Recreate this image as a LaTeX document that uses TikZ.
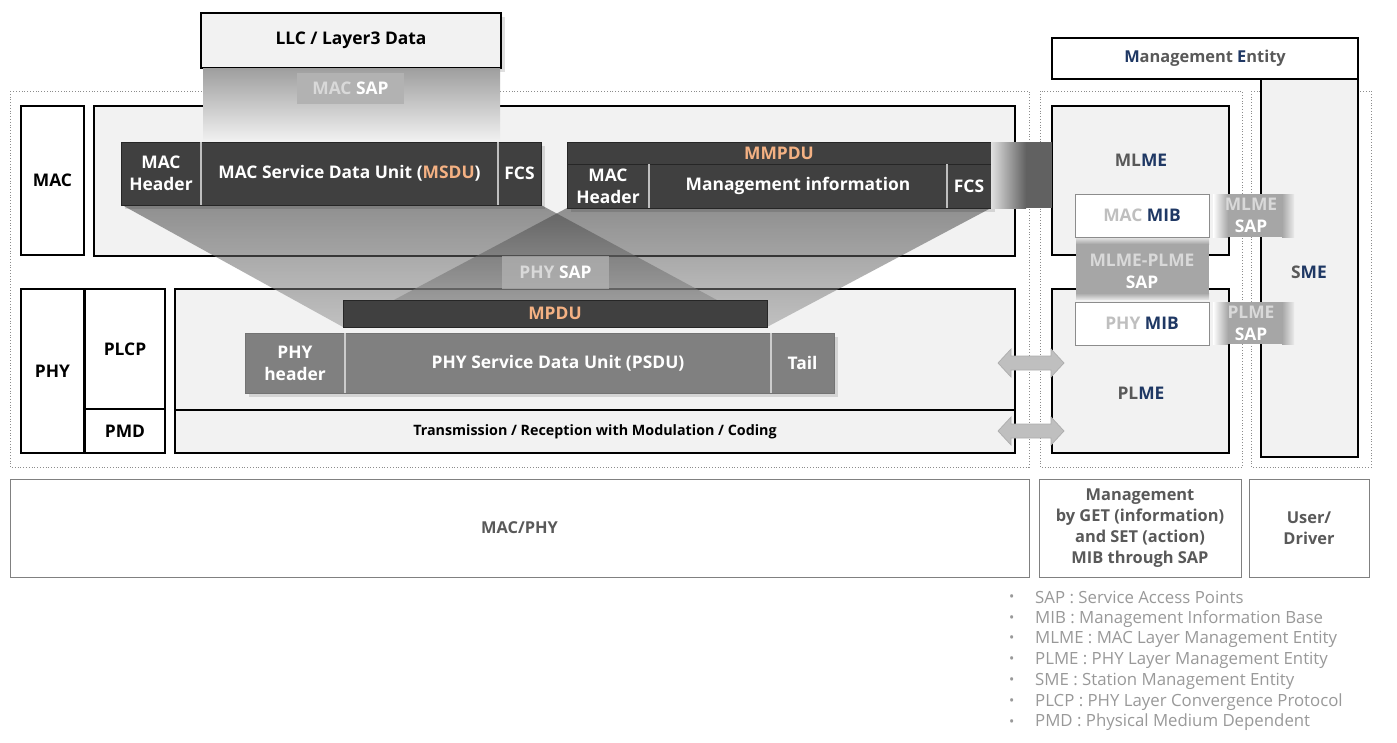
\documentclass[tikz,border=0pt]{standalone}
\usepackage{fontspec}
\setmainfont{Open Sans}
\usetikzlibrary{shadows}
\definecolor{lf}{HTML}{F2F2F2}
\definecolor{dk}{HTML}{404040}
\definecolor{pg}{HTML}{808080}
\definecolor{org}{HTML}{F4B183}
\definecolor{navy}{HTML}{1F3864}
\definecolor{tg}{HTML}{595959}
\definecolor{sapc}{HTML}{A6A6A6}
\definecolor{ltx}{HTML}{D9D9D9}
\definecolor{leg}{HTML}{999999}
\newcommand\fbig{\bfseries\fontsize{17.4}{22}\selectfont}
\newcommand\fmed{\bfseries\fontsize{16.4}{21}\selectfont}
\newcommand\fsm{\bfseries\fontsize{14.3}{16}\selectfont}
\newcommand\fleg{\fontsize{16.8}{20}\selectfont}
\begin{document}
\begin{tikzpicture}[x=1pt,y=-1pt,
 base/.style={anchor=north west, inner sep=0pt, outer sep=0pt, align=center},
 lay/.style={base, draw=black, line width=1.6pt, fill=lf},
 lbl/.style={base, draw=black, line width=1.6pt, fill=white, font=\fbig},
 seg/.style={base, fill=dk, draw=black!85, line width=0.8pt, text=white, font=\fbig},
 pseg/.style={base, fill=pg, draw=black!55, line width=0.8pt, text=white, font=\fbig},
 sepl/.style={draw=black!25, line width=1.2pt},
 mib/.style={base, draw=black!45, line width=1pt, fill=white, font=\fbig},
 sap/.style={base, fill=black!30, font=\fbig, text=white},
 saptxt/.style={inner sep=0pt, font=\fbig, text=white, align=center},
 txt/.style={inner sep=0pt, font=\fbig},
 botbox/.style={base, draw=black!50, line width=1pt, fill=white, text=tg, font=\fmed},
 dotbox/.style={draw=black!45, dotted, line width=0.8pt},
 funnel/.style={top color=black!75, bottom color=black!40, fill opacity=0.55},
 fshadow/.style={fill=black, fill opacity=0.12},
 dblarrow/.style={fill=black!25, draw=black!32, line width=0.7pt},
 legt/.style={anchor=west, inner sep=0pt, text=leg, font=\fleg}
]
\path[fill=white] (0,0) rectangle (1397,742);
\useasboundingbox (0,0) rectangle (1397,742);

% dotted groups
\draw[dotbox] (10,91) rectangle (1029,467);
\draw[dotbox] (1040,91) rectangle (1242,467);
\draw[dotbox] (1251,91) rectangle (1371,467);

% MAC / PHY layers
\node[lbl, minimum width=63, minimum height=149] (mac) at (21,106) {MAC};
\node[lay, minimum width=921, minimum height=150] (maclayer) at (94,106) {};
\node[lbl, minimum width=63, minimum height=164] (phy) at (21,289) {PHY};
\node[lbl, minimum width=80, minimum height=120] (plcp) at (85,289) {PLCP};
\node[lbl, minimum width=80, minimum height=44] (pmd) at (85,409) {PMD};
\node[lay, minimum width=840, minimum height=121] (phylayer) at (175,289) {};
\node[lay, minimum width=840, minimum height=43, font=\fsm] (pmdlayer) at (175,410) {Transmission / Reception with Modulation / Coding};

% management entities
\node[lay, minimum width=177, minimum height=149] (mlme) at (1052,106) {};
\node[lay, minimum width=177, minimum height=164] (plme) at (1052,289) {};
\node[lay, minimum width=97, minimum height=379] (sme) at (1261,78) {};
\node[lbl, minimum width=306, minimum height=41, font=\fmed] (me) at (1052,38) {\textcolor{navy}{M}\textcolor{tg}{anagement} \textcolor{navy}{E}\textcolor{tg}{ntity}};
\node[txt] (mlmet) at (1141,160) {\textcolor{tg}{ML}\textcolor{navy}{ME}};
\node[txt] (plmet) at (1141,393) {\textcolor{tg}{PL}\textcolor{navy}{ME}};
\node[txt] (smet) at (1309,272) {\textcolor{tg}{S}\textcolor{navy}{ME}};

% LLC and MAC SAP
\node[lbl, fill=lf, minimum width=300, minimum height=55, drop shadow={opacity=0.25, shadow xshift=4pt, shadow yshift=-4pt}] (llc) at (201,13) {LLC / Layer3 Data};
\shade[top color=black!38, bottom color=lf] (203,68) rectangle (500,142);
\node[sap, minimum width=107, minimum height=31] (macsap) at (297,73) {\textcolor{ltx}{MAC} SAP};

% funnels
\shade[funnel] (122,205) -- (541,205) -- (767,327) -- (343,327) -- cycle;
\shade[funnel] (567,208) -- (991,208) -- (767,327) -- (343,327) -- cycle;
\node[sap, fill opacity=0.75, text opacity=1, minimum width=107, minimum height=33] (physap) at (502,256) {\textcolor{ltx}{PHY} SAP};

% soft shadows of frames
\fill[fshadow] (125,146) rectangle (545,209);
\fill[fshadow] (571,146) rectangle (995,212);
\fill[fshadow] (249,337) rectangle (838,397);

% MSDU frame
\node[seg, minimum width=80, minimum height=63] (mh1) at (121,142) {MAC\\Header};
\node[seg, minimum width=297, minimum height=63] (msdu) at (201,142) {MAC Service Data Unit (\textcolor{org}{MSDU})};
\node[seg, minimum width=43, minimum height=63] (fcs1) at (498,142) {FCS};
\draw[sepl] (msdu.north west) -- (msdu.south west);
\draw[sepl] (fcs1.north west) -- (fcs1.south west);

% MMPDU frame
\node[seg, minimum width=424, minimum height=22] (mmpdu) at (567,142) {\textcolor{org}{MMPDU}};
\node[seg, minimum width=82, minimum height=44] (mh2) at (567,164) {MAC\\Header};
\node[seg, minimum width=298, minimum height=44] (mgmt) at (649,164) {Management information};
\node[seg, minimum width=44, minimum height=44] (fcs2) at (947,164) {FCS};
\draw[sepl] (mgmt.north west) -- (mgmt.south west);
\draw[sepl] (fcs2.north west) -- (fcs2.south west);

% MPDU and PSDU
\node[seg, minimum width=424, minimum height=27] (mpdu) at (343,300) {\textcolor{org}{MPDU}};
\node[pseg, minimum width=100, minimum height=60] (phh) at (245,333) {PHY\\header};
\node[pseg, minimum width=426, minimum height=60] (psdu) at (345,333) {PHY Service Data Unit (PSDU)};
\node[pseg, minimum width=63, minimum height=60] (tail) at (771,333) {Tail};
\draw[sepl, draw=white!80!black] (psdu.north west) -- (psdu.south west);
\draw[sepl, draw=white!80!black] (tail.north west) -- (tail.south west);

% MMPDU to MLME band
\shade[left color=black!12, right color=black!62] (991,142) rectangle (1026,208);
\fill[black!62] (1026,142) rectangle (1052,208);

% MIBs and SAPs
\node[mib, minimum width=134, minimum height=43] (macmib) at (1075,194) {\textcolor{black!25}{MAC} \textcolor{navy}{MIB}};
\node[mib, minimum width=134, minimum height=43] (phymib) at (1075,302) {\textcolor{black!25}{PHY} \textcolor{navy}{MIB}};

\shade[left color=white, right color=sapc] (1213,194) rectangle (1228,237);
\fill[sapc] (1228,194) rectangle (1282,237);
\shade[left color=sapc, right color=black!8] (1282,194) rectangle (1294,237);
\node[saptxt] (mlmesap) at (1251,215.5) {\textcolor{ltx}{MLME}\\SAP};

\shade[left color=white, right color=sapc] (1213,302) rectangle (1228,344);
\fill[sapc] (1228,302) rectangle (1282,344);
\shade[left color=sapc, right color=black!8] (1282,302) rectangle (1294,344);
\node[saptxt] (plmesap) at (1251,323) {\textcolor{ltx}{PLME}\\SAP};

\shade[top color=black!12, bottom color=sapc] (1076,238) rectangle (1209,244);
\fill[sapc] (1076,244) rectangle (1209,293);
\shade[top color=sapc, bottom color=black!12] (1076,293) rectangle (1209,299);
\node[saptxt] (mpsap) at (1142,271) {\textcolor{ltx}{MLME-PLME}\\SAP};

% double arrows
\foreach \yy in {363,431}{
  \filldraw[dblarrow] (998,\yy) -- (1011,\yy-14) -- (1011,\yy-7) -- (1051,\yy-7) -- (1051,\yy-14)
    -- (1064,\yy) -- (1051,\yy+14) -- (1051,\yy+7) -- (1011,\yy+7) -- (1011,\yy+14) -- cycle;
}

% bottom row
\node[botbox, minimum width=1019, minimum height=98] (macphy) at (10,479) {MAC/PHY};
\node[botbox, minimum width=202, minimum height=98] (mgmtby) at (1039,479) {Management\\by GET (information)\\and SET (action)\\MIB through SAP};
\node[botbox, minimum width=120, minimum height=98] (user) at (1249,479) {User/\\Driver};

% legend
\foreach \t [count=\i] in {SAP : Service Access Points, MIB : Management Information Base, MLME : MAC Layer Management Entity, PLME : PHY Layer Management Entity, SME : Station Management Entity, PLCP : PHY Layer Convergence Protocol, PMD : Physical Medium Dependent}{
  \node[legt] (b\i) at (1009,577+20.8*\i) {\fontsize{14}{14}\selectfont\textbullet};
  \node[legt] (l\i) at (1035,577+20.8*\i) {\t};
}
\end{tikzpicture}
\end{document}
